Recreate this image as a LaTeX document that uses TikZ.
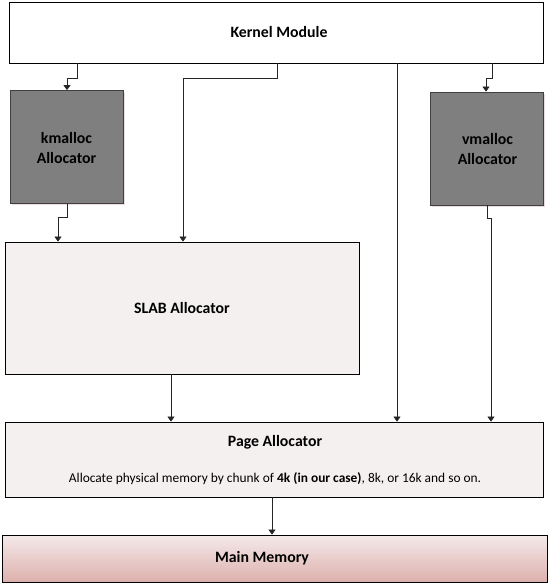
\documentclass[tikz,border=0pt]{standalone}
\usepackage{fontspec}
\setmainfont{Carlito}
\usetikzlibrary{arrows.meta}
\definecolor{darkbox}{HTML}{7F7F7F}
\definecolor{lightbox}{HTML}{F4F0F0}
\definecolor{memtop}{HTML}{F4EAEA}
\definecolor{membot}{HTML}{DDB0AC}
\definecolor{shadowc}{HTML}{EADCDC}
\begin{document}
\begin{tikzpicture}[x=1pt,y=-1pt,
  box/.style={draw=black, line width=0.8pt, rectangle, inner sep=0pt},
  title/.style={font=\fontsize{15.8}{20}\selectfont\bfseries, text=black, align=center},
  darkbx/.style={box, fill=darkbox, draw=black!75},
  conn/.style={draw=black!85, line width=0.7pt},
  arr/.style={conn, -{Triangle[width=7pt,length=5pt]}}]
\useasboundingbox (0,0) rectangle (550,584);
\fill[white] (0,0) rectangle (550,584);
% shadows of dark boxes
\fill[shadowc] (11.5,92.5) rectangle (124.5,204.5);
\fill[shadowc] (431.5,94) rectangle (544.5,206.5);
% boxes
\node[box, fill=white, minimum width=534pt, minimum height=61pt] (kernel) at (276,32.5) {};
\node[title] (kerneltxt) at (279,32.5) {Kernel Module};
\node[darkbx, minimum width=113pt, minimum height=113pt] (kmalloc) at (66.5,147) {};
\node[title] (kmalloctxt) at (66.5,148) {kmalloc\\Allocator};
\node[darkbx, minimum width=113pt, minimum height=113pt] (vmalloc) at (486.5,148.5) {};
\node[title] (vmalloctxt) at (487.5,149) {vmalloc\\Allocator};
\node[box, fill=lightbox, minimum width=354pt, minimum height=132pt] (slab) at (182,308) {};
\node[title] (slabtxt) at (182,308) {SLAB Allocator};
\node[box, fill=lightbox, minimum width=538pt, minimum height=75pt] (page) at (274,459.5) {};
\node[title] (pagetxt) at (275,442) {Page Allocator};
\node[font=\fontsize{13.4}{15}\selectfont, text=black] (pagesub) at (275,479) {Allocate physical memory by chunk of \textbf{4k (in our case)}, 8k, or 16k and so on.};
\node[box, top color=memtop, bottom color=membot, minimum width=545pt, minimum height=47pt] (main) at (275,558.5) {};
\node[title] (maintxt) at (262,558) {Main Memory};
% connectors
\draw[arr] (kernel.south -| 77,0) -- (77,78) -| (kmalloc.north -| 67,0);
\draw[arr] (kernel.south -| 277,0) -- (277,78) -| (slab.north -| 183,0);
\draw[arr] (kernel.south -| 397,0) -- (page.north -| 397,0);
\draw[arr] (kernel.south -| 492,0) -- (492,78) -| (vmalloc.north -| 486,0);
\draw[arr] (kmalloc.south -| 67,0) -- (67,217) -| (slab.north -| 58,0);
\draw[arr] (vmalloc.south -| 487,0) -- (487,218) -| (page.north -| 491,0);
\draw[arr] (slab.south -| 171,0) -- (page.north -| 171,0);
\draw[arr] (page.south -| 272,0) -- (main.north -| 272,0);
\end{tikzpicture}
\end{document}
